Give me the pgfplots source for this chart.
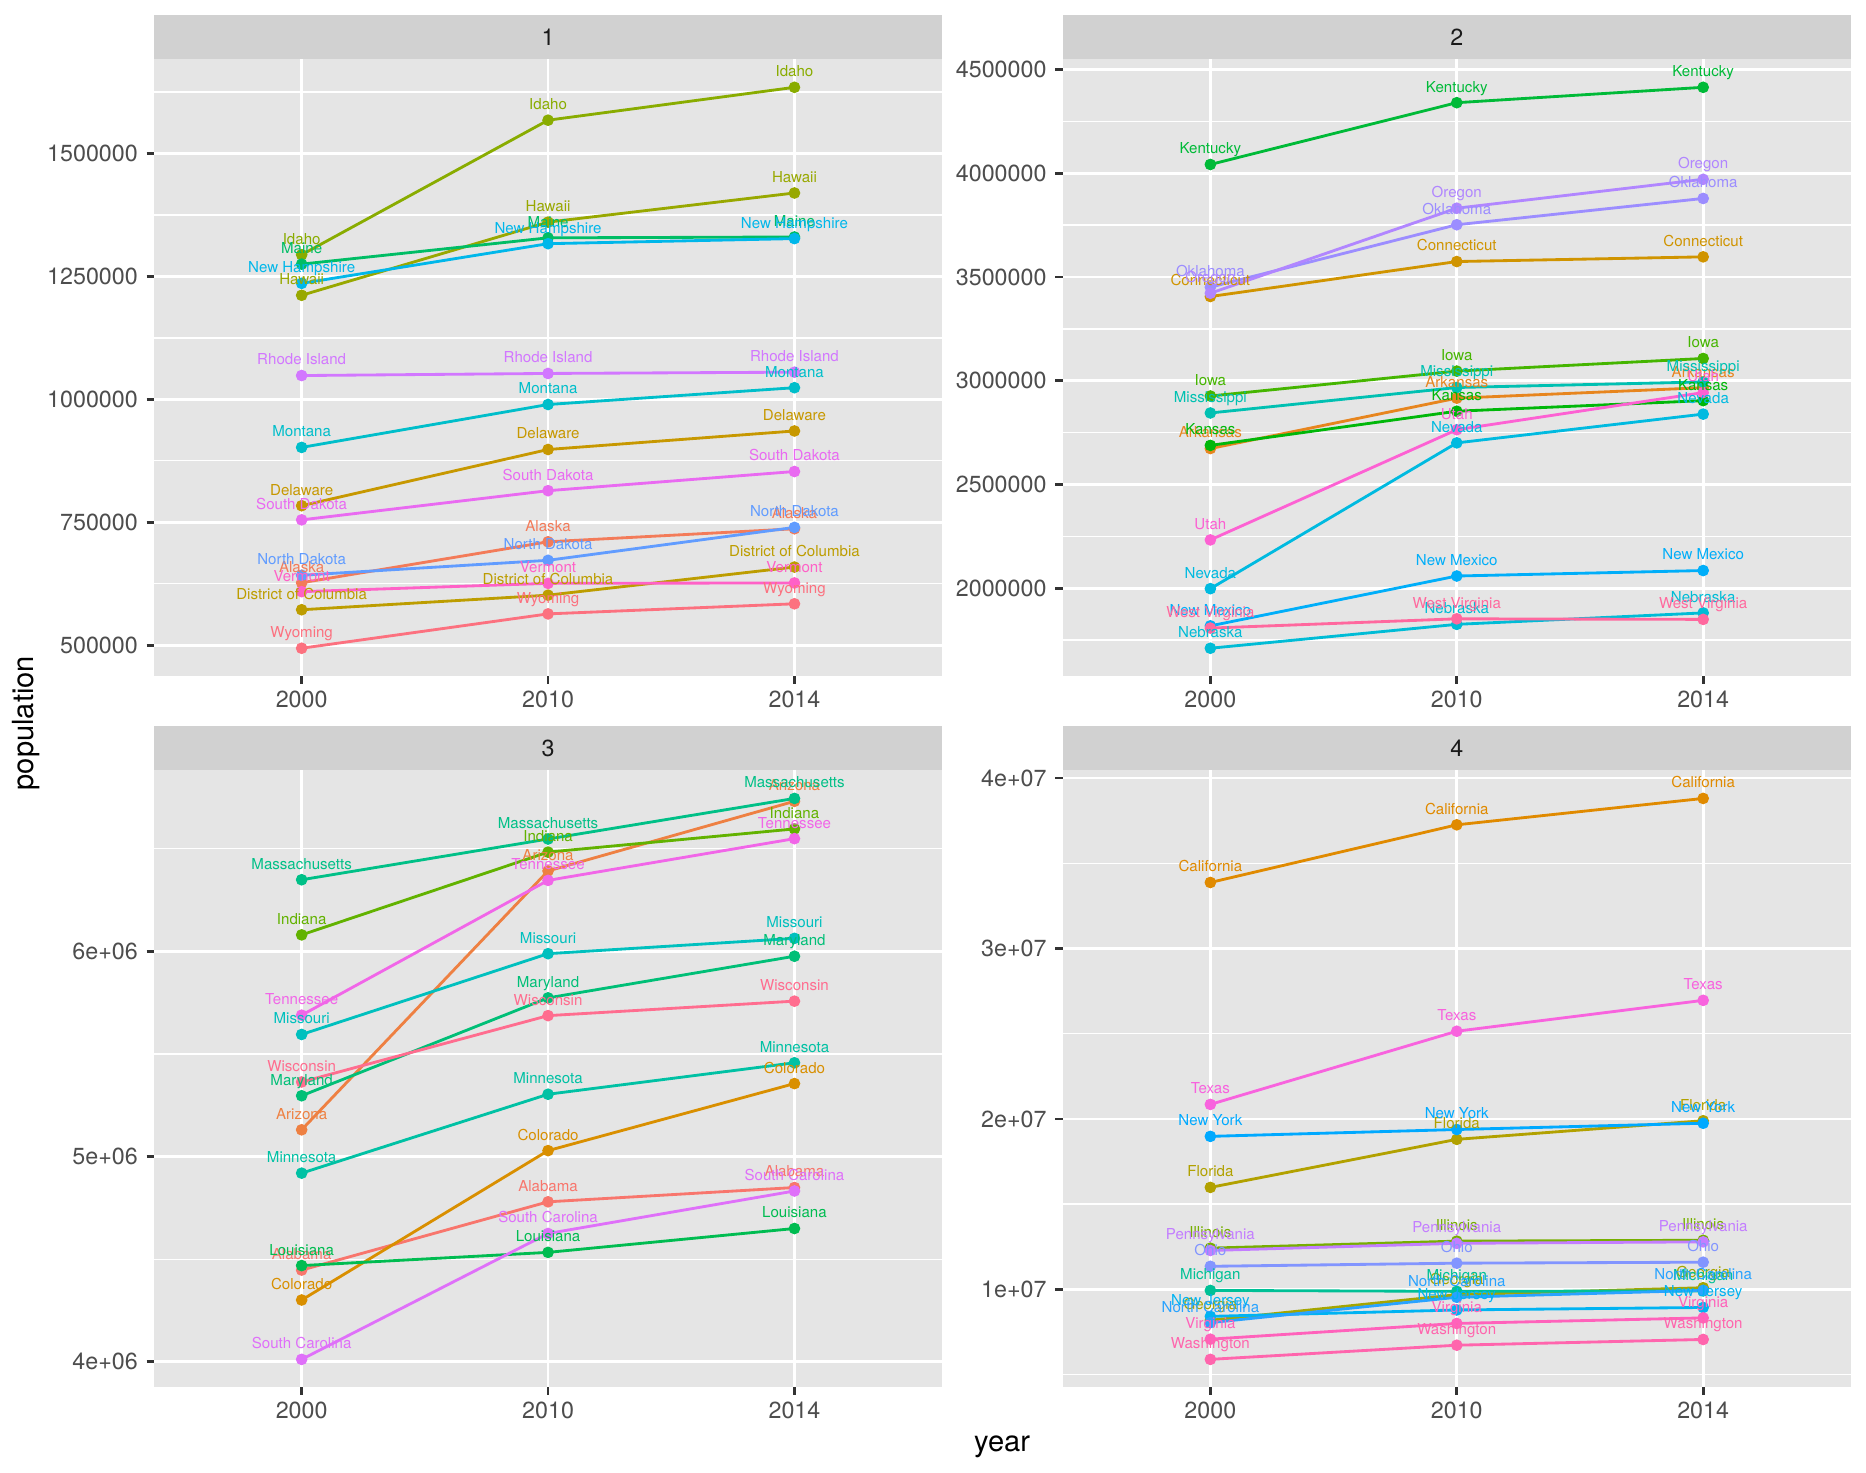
\documentclass[border=0pt]{standalone}
\usepackage{fontspec}
\setmainfont{TeX Gyre Heros}
\usepackage{pgfplots}
\usepackage{pgfplotstable}
\pgfplotsset{compat=1.18}
\definecolor{gg92}{HTML}{E5E5E5}
\definecolor{gg85}{HTML}{D1D1D1}
\definecolor{gg30}{HTML}{4D4D4D}
\definecolor{gg20}{HTML}{333333}
\definecolor{gg10}{HTML}{1A1A1A}
% ggplot default hue palette (HCL, c=100, l=65) for 51 levels
\newcommand\mkhcl[2]{%
\begingroup
\pgfkeys{/pgf/fpu=true,/pgf/fpu/output format=fixed}%
\pgfmathsetmacro\hclH{15+(#2-1)*360/51}%
\pgfmathsetmacro\hclU{100*cos(\hclH)/845+0.197839}%
\pgfmathsetmacro\hclV{100*sin(\hclH)/845+0.468336}%
\pgfmathsetmacro\hclX{0.340466*9*\hclU/(4*\hclV)}%
\pgfmathsetmacro\hclZ{0.340466*(12-3*\hclU-20*\hclV)/(4*\hclV)}%
\pgfmathsetmacro\hclr{3.2404542*\hclX-0.523343-0.4985314*\hclZ}%
\pgfmathsetmacro\hclg{-0.9692660*\hclX+0.638718+0.0415560*\hclZ}%
\pgfmathsetmacro\hclb{0.0556434*\hclX-0.069464+1.0572252*\hclZ}%
\pgfmathsetmacro\hclR{max(0,min(1,1.055*exp(ln(max(\hclr,0.0001))/2.4)-0.055))}%
\pgfmathsetmacro\hclG{max(0,min(1,1.055*exp(ln(max(\hclg,0.0001))/2.4)-0.055))}%
\pgfmathsetmacro\hclB{max(0,min(1,1.055*exp(ln(max(\hclb,0.0001))/2.4)-0.055))}%
\xdef\hclout{\hclR,\hclG,\hclB}%
\endgroup
\edef\hcltmp{\noexpand\definecolor{#1}{rgb}{\hclout}}\hcltmp}
\mkhcl{s1}{1}\mkhcl{s2}{2}\mkhcl{s3}{3}\mkhcl{s4}{4}\mkhcl{s5}{5}\mkhcl{s6}{6}
\mkhcl{s7}{7}\mkhcl{s8}{8}\mkhcl{s9}{9}\mkhcl{s10}{10}\mkhcl{s11}{11}\mkhcl{s12}{12}
\mkhcl{s13}{13}\mkhcl{s14}{14}\mkhcl{s15}{15}\mkhcl{s16}{16}\mkhcl{s17}{17}\mkhcl{s18}{18}
\mkhcl{s19}{19}\mkhcl{s20}{20}\mkhcl{s21}{21}\mkhcl{s22}{22}\mkhcl{s23}{23}\mkhcl{s24}{24}
\mkhcl{s25}{25}\mkhcl{s26}{26}\mkhcl{s27}{27}\mkhcl{s28}{28}\mkhcl{s29}{29}\mkhcl{s30}{30}
\mkhcl{s31}{31}\mkhcl{s32}{32}\mkhcl{s33}{33}\mkhcl{s34}{34}\mkhcl{s35}{35}\mkhcl{s36}{36}
\mkhcl{s37}{37}\mkhcl{s38}{38}\mkhcl{s39}{39}\mkhcl{s40}{40}\mkhcl{s41}{41}\mkhcl{s42}{42}
\mkhcl{s43}{43}\mkhcl{s44}{44}\mkhcl{s45}{45}\mkhcl{s46}{46}\mkhcl{s47}{47}\mkhcl{s48}{48}
\mkhcl{s49}{49}\mkhcl{s50}{50}\mkhcl{s51}{51}

\pgfplotstableread{
x Alaska Delaware DC Hawaii Idaho Maine Montana NewHampshire NorthDakota RhodeIsland SouthDakota Vermont Wyoming
0 626932 783600 572059 1211537 1293953 1274923 902195 1235786 642200 1048319 754844 608827 493782
1 710231 897934 601723 1360301 1567582 1328361 989415 1316470 672591 1052567 814180 625741 563626
2 736732 935614 658893 1419561 1634464 1330089 1023579 1326813 739482 1055173 853175 626562 584153
}\tA
\pgfplotstableread{
x Arkansas Connecticut Iowa Kansas Kentucky Mississippi Nebraska Nevada NewMexico Oklahoma Oregon Utah WestVirginia
0 2673400 3405565 2926324 2688418 4041769 2844658 1711263 1998257 1819046 3450654 3421399 2233169 1808344
1 2915918 3574097 3046355 2853118 4339367 2967297 1826341 2700551 2059179 3751351 3831074 2763885 1852994
2 2966369 3596677 3107126 2904021 4413457 2994079 1881503 2839099 2085572 3878051 3970239 2942902 1850326
}\tB
\pgfplotstableread{
x Alabama Arizona Colorado Indiana Louisiana Maryland Massachusetts Minnesota Missouri SouthCarolina Tennessee Wisconsin
0 4447100 5130632 4301261 6080485 4468976 5296486 6349097 4919479 5595211 4012012 5689283 5363675
1 4779736 6392017 5029196 6483802 4533372 5773552 6547629 5303925 5988927 4625364 6346105 5686986
2 4849377 6731484 5355866 6596855 4649676 5976407 6745408 5457173 6063589 4832482 6549352 5757564
}\tC
\pgfplotstableread{
x California Florida Georgia Illinois Michigan NewJersey NewYork NorthCarolina Ohio Pennsylvania Texas Virginia Washington
0 33871648 15982378 8186453 12419293 9938444 8414350 18976457 8049313 11353140 12281054 20851820 7078515 5894121
1 37253956 18801310 9687653 12830632 9883640 8791894 19378102 9535483 11536504 12702379 25145561 8001024 6724540
2 38802500 19893297 10097343 12880580 9909877 8938175 19746227 9943964 11594163 12787209 26956958 8326289 7061530
}\tD

\newcommand\lbl{\fontsize{5.7}{6.5}\selectfont}
\newcommand\gL[4]{\addplot[color=#1,line width=1.07pt,mark=none,forget plot] table[x=x,y=#2]{#4};}
\newcommand\gP[4]{\addplot[color=#1,only marks,mark=*,mark size=2.0pt,forget plot] table[x=x,y=#2]{#4};}
\newcommand\gT[4]{\addplot[color=#1,draw=none,mark=none,forget plot,nodes near coords={#3},
  every node near coord/.append style={anchor=base,yshift=4.0pt,inner sep=0pt,font=\lbl,text=#1}] table[x=x,y=#2]{#4};}

\newcommand\panelA[1]{%
#1{s2}{Alaska}{Alaska}{\tA}#1{s8}{Delaware}{Delaware}{\tA}#1{s9}{DC}{District of Columbia}{\tA}%
#1{s12}{Hawaii}{Hawaii}{\tA}#1{s13}{Idaho}{Idaho}{\tA}#1{s20}{Maine}{Maine}{\tA}%
#1{s27}{Montana}{Montana}{\tA}#1{s30}{NewHampshire}{New Hampshire}{\tA}#1{s35}{NorthDakota}{North Dakota}{\tA}%
#1{s40}{RhodeIsland}{Rhode Island}{\tA}#1{s42}{SouthDakota}{South Dakota}{\tA}#1{s46}{Vermont}{Vermont}{\tA}%
#1{s51}{Wyoming}{Wyoming}{\tA}}
\newcommand\panelB[1]{%
#1{s4}{Arkansas}{Arkansas}{\tB}#1{s7}{Connecticut}{Connecticut}{\tB}#1{s16}{Iowa}{Iowa}{\tB}%
#1{s17}{Kansas}{Kansas}{\tB}#1{s18}{Kentucky}{Kentucky}{\tB}#1{s25}{Mississippi}{Mississippi}{\tB}%
#1{s28}{Nebraska}{Nebraska}{\tB}#1{s29}{Nevada}{Nevada}{\tB}#1{s32}{NewMexico}{New Mexico}{\tB}%
#1{s37}{Oklahoma}{Oklahoma}{\tB}#1{s38}{Oregon}{Oregon}{\tB}#1{s45}{Utah}{Utah}{\tB}%
#1{s49}{WestVirginia}{West Virginia}{\tB}}
\newcommand\panelC[1]{%
#1{s1}{Alabama}{Alabama}{\tC}#1{s3}{Arizona}{Arizona}{\tC}#1{s6}{Colorado}{Colorado}{\tC}%
#1{s15}{Indiana}{Indiana}{\tC}#1{s19}{Louisiana}{Louisiana}{\tC}#1{s21}{Maryland}{Maryland}{\tC}%
#1{s22}{Massachusetts}{Massachusetts}{\tC}#1{s24}{Minnesota}{Minnesota}{\tC}#1{s26}{Missouri}{Missouri}{\tC}%
#1{s41}{SouthCarolina}{South Carolina}{\tC}#1{s43}{Tennessee}{Tennessee}{\tC}#1{s50}{Wisconsin}{Wisconsin}{\tC}}
\newcommand\panelD[1]{%
#1{s5}{California}{California}{\tD}#1{s10}{Florida}{Florida}{\tD}#1{s11}{Georgia}{Georgia}{\tD}%
#1{s14}{Illinois}{Illinois}{\tD}#1{s23}{Michigan}{Michigan}{\tD}#1{s31}{NewJersey}{New Jersey}{\tD}%
#1{s33}{NewYork}{New York}{\tD}#1{s34}{NorthCarolina}{North Carolina}{\tD}#1{s36}{Ohio}{Ohio}{\tD}%
#1{s39}{Pennsylvania}{Pennsylvania}{\tD}#1{s44}{Texas}{Texas}{\tD}#1{s47}{Virginia}{Virginia}{\tD}%
#1{s48}{Washington}{Washington}{\tD}}

\pgfplotsset{ggax/.style={
  scale only axis, width=298.05pt, height=233.23pt,
  xmin=-0.6, xmax=2.6, xtick={0,1,2}, xticklabels={2000,2010,2014},
  axis background/.style={fill=gg92},
  axis line style={draw=none},
  tick pos=left, tick align=outside,
  major tick length=2.75pt, minor tick length=0pt,
  major tick style={draw=gg20, line width=1.07pt},
  xmajorgrids, ymajorgrids, yminorgrids,
  major grid style={white, line width=1.07pt},
  minor grid style={white, line width=0.53pt},
  ticklabel style={font=\fontsize{8.8}{9}\selectfont, text=gg30, inner sep=0pt},
  xticklabel style={anchor=north, yshift=-2.6pt},
  yticklabel style={anchor=east, xshift=-3.1pt},
  scaled y ticks=false, scaled x ticks=false,
}}
\newcommand\strip[2]{%
  \fill[gg85] (#1.north west) rectangle ([yshift=16.7pt]#1.north east);
  \node[font=\fontsize{8.8}{9}\selectfont, text=gg10] at ([yshift=8.35pt]#1.north) {#2};}

\begin{document}
\begin{tikzpicture}
\useasboundingbox (0,0) rectangle (705.35pt,556.42pt);
\begin{axis}[ggax, name=p1, at={(58.14pt,300.78pt)}, anchor=south west,
  ymin=436748, ymax=1691498,
  ytick={500000,750000,1000000,1250000,1500000},
  yticklabels={500000,750000,1000000,1250000,1500000},
  minor ytick={625000,875000,1125000,1375000,1625000}]
\panelA\gL \panelA\gP \panelA\gT
\end{axis}
\strip{p1}{1}
\begin{axis}[ggax, name=p2, at={(401.63pt,300.78pt)}, anchor=south west,
  ymin=1576153, ymax=4548567,
  ytick={2000000,2500000,3000000,3500000,4000000,4500000},
  yticklabels={2000000,2500000,3000000,3500000,4000000,4500000},
  minor ytick={1750000,2250000,2750000,3250000,3750000,4250000}]
\panelB\gL \panelB\gP \panelB\gT
\end{axis}
\strip{p2}{2}
\begin{axis}[ggax, name=p3, at={(58.14pt,31.98pt)}, anchor=south west,
  ymin=3875342, ymax=6882078,
  ytick={4000000,5000000,6000000},
  yticklabels={4e+06,5e+06,6e+06},
  minor ytick={4500000,5500000,6500000}]
\panelC\gL \panelC\gP \panelC\gT
\end{axis}
\strip{p3}{3}
\begin{axis}[ggax, name=p4, at={(401.63pt,31.98pt)}, anchor=south west,
  ymin=4248702, ymax=40447919,
  ytick={10000000,20000000,30000000,40000000},
  yticklabels={1e+07,2e+07,3e+07,4e+07},
  minor ytick={5000000,15000000,25000000,35000000}]
\panelD\gL \panelD\gP \panelD\gT
\end{axis}
\strip{p4}{4}
\node[anchor=base, font=\fontsize{11}{13}\selectfont] at (378.8pt,7.67pt) {year};
\node[rotate=90, anchor=base, font=\fontsize{11}{13}\selectfont] at (12.85pt,283.1pt) {population};
\end{tikzpicture}
\end{document}
